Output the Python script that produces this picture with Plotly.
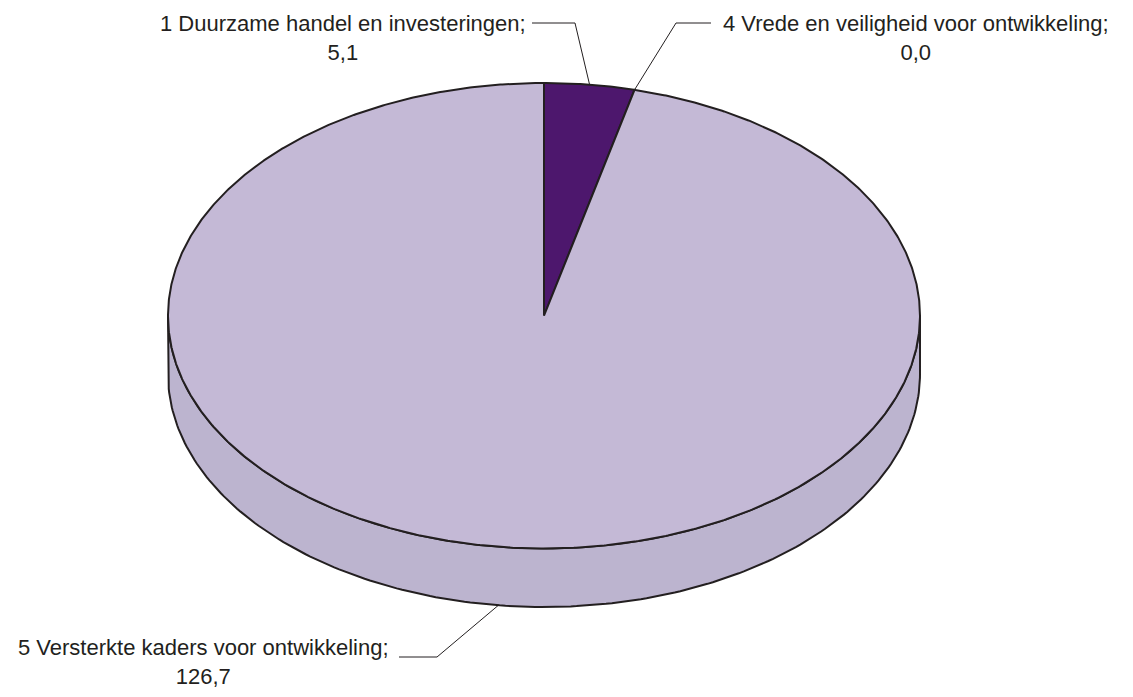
import numpy as np
import plotly.graph_objects as go

# ---- data ----
labels = ["1 Duurzame handel en investeringen",
          "4 Vrede en veiligheid voor ontwikkeling",
          "5 Versterkte kaders voor ontwikkeling"]
values = [5.1, 0.0, 126.7]
top_colors = ["#4D176D", "#C4B9D6", "#C4B9D6"]
side_colors = ["#3E1457", "#BCB4CF", "#BCB4CF"]

# ---- geometry (pixel-space layout) ----
W, H = 1133, 697
PAD = 8  # page body margin
CX, CY = 544.0, 315.75
RX, RY = 376.0, 232.75
DEPTH = 58.5
EDGE = "#231F20"
FONT = dict(family="Liberation Sans, Arial, sans-serif", size=22, color="#231F20")

# (x centre, y centre of the two-line label)
label_pos = [(343, 38), (916, 38), (203, 662)]
# (text end x, elbow x, y)
elbows = [(532, 575, 23), (711, 676, 23), (399, 437, 657)]


def pt(theta, dy=0.0):
    t = np.radians(theta)
    return CX + RX * np.sin(t), CY - RY * np.cos(t) + dy


fig = go.Figure()

total = sum(values)
angles = []
start = 0.0
for v in values:
    end = start + v / total * 360.0
    angles.append((start, end))
    start = end

# side walls (front half: 90..270 degrees clockwise from top)
for (a, b), sc in zip(angles, side_colors):
    lo, hi = max(a, 90.0), min(b, 270.0)
    if hi <= lo:
        continue
    th = np.linspace(lo, hi, 200)
    xt, yt = pt(th)
    xb, yb = pt(th[::-1], DEPTH)
    xs = np.concatenate([xt, xb, xt[:1]])
    ys = np.concatenate([yt, yb, yt[:1]])
    fig.add_trace(go.Scatter(x=xs, y=ys, mode="lines", fill="toself",
                             fillcolor=sc, line=dict(color=EDGE, width=2),
                             hoverinfo="skip", showlegend=False))

# top faces
for (a, b), tc, v in zip(angles, top_colors, values):
    if v <= 0:
        continue
    n = max(int((b - a) * 3), 10)
    th = np.linspace(a, b, n)
    xa, ya = pt(th)
    xs = np.concatenate([[CX], xa, [CX]])
    ys = np.concatenate([[CY], ya, [CY]])
    fig.add_trace(go.Scatter(x=xs, y=ys, mode="lines", fill="toself",
                             fillcolor=tc, line=dict(color=EDGE, width=2),
                             hoverinfo="skip", showlegend=False))

# labels and leader lines
for (a, b), lab, v, (lx, ly), (tx, ex, ey) in zip(angles, labels, values,
                                                   label_pos, elbows):
    mid = (a + b) / 2.0
    dy = DEPTH if 90.0 < mid < 270.0 else 0.0
    px, py = pt(mid, dy)
    fig.add_trace(go.Scatter(x=[tx, ex, px], y=[ey, ey, py], mode="lines",
                             line=dict(color=EDGE, width=1),
                             hoverinfo="skip", showlegend=False))
    val = f"{v:.1f}".replace(".", ",")
    fig.add_annotation(x=lx, y=ly, xref="x", yref="y",
                       text=f"{lab};<br>{val}", align="center",
                       showarrow=False, font=FONT, borderpad=0,
                       xanchor="center", yanchor="middle")

fig.update_layout(
    width=W - 2 * PAD, height=H - 2 * PAD,
    margin=dict(l=0, r=0, t=0, b=0),
    paper_bgcolor="white", plot_bgcolor="white",
    xaxis=dict(range=[PAD, W - PAD], visible=False, fixedrange=True),
    yaxis=dict(range=[H - PAD, PAD], visible=False, fixedrange=True),
    showlegend=False,
)

fig.write_html("out.html")
